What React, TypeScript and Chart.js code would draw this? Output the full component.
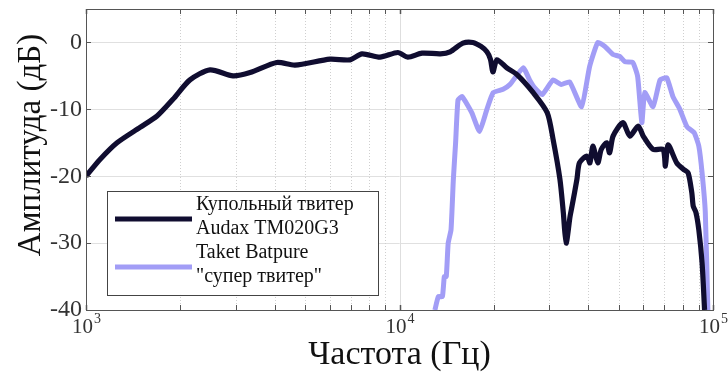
import React, { useEffect, useRef } from "react";
import { Chart, registerables } from "chart.js";

Chart.register(...registerables);

// ---- data ----
const audaxFreq = [
  1000, 1108, 1256, 1487, 1685, 1894, 2146, 2487, 2945, 3337, 4061, 4640, 6000, 6955, 7590, 8670,
  9880, 10630, 11800, 13500, 14500, 15930, 17140, 18200, 19000, 19500, 19870, 20450, 22000, 23700,
  26700, 29600, 30900, 32500, 33300, 34000, 35000, 35500, 36800, 37500, 39600, 40500, 41400, 42900,
  44000, 45800, 46800, 48000, 51600, 54300, 57700, 59900, 64400, 69300, 70500, 71900, 76600, 80600,
  83300, 85600, 86500, 88200, 90100, 92300, 94000,
];
const audaxDb = [
  -20, -17.5, -15, -12.7, -11, -8.5, -5.6, -4.1, -5.0, -4.5, -3.0, -3.4, -2.5, -2.6, -1.7, -2.2,
  -1.5, -2.2, -1.6, -1.7, -1.4, -0.1, 0, -0.6, -1.4, -2.5, -4.4, -2.6, -3.8, -4.8,
  -7.5, -10.5, -14.5, -20.5, -25.4, -30, -26, -24.5, -20.5, -18, -17, -18, -15.5, -18,
  -16, -15, -16.5, -14, -12, -14, -12.5, -14, -16, -16, -18.5, -15.3, -18, -19,
  -19.5, -22.5, -24.5, -25.4, -28, -33, -40,
];
const taketFreq = [
  12970, 13300, 13700, 13900, 14100, 14300, 14600, 14850, 15100, 15370, 15840, 17000, 18000, 19000,
  19900, 21400, 22500, 24800, 26000, 27000, 28500, 30900, 32800, 34900, 38100, 40400, 42900, 45200,
  48000, 50400, 52400, 55500, 57500, 59300, 60600, 64400, 67800, 71200, 74500, 78400, 82600, 87100,
  90100, 92300, 94500, 96300,
];
const taketDb = [
  -40, -38, -38, -35, -35, -30, -28, -20.5, -15, -8.6, -8.1, -10.5, -13.3, -10,
  -7.5, -7, -6.3, -3.8, -5.6, -6.8, -7.8, -5.6, -6.3, -5.9, -9.6, -3.6, 0, -0.6,
  -1.8, -2.1, -2.9, -3.0, -5.1, -12, -7.5, -9.6, -5.6, -5.3, -8.1, -10, -12.6, -13.5,
  -15.5, -19.5, -25.4, -40,
];
const yTickValues = [-40, -30, -20, -10, 0];
const xDecades = [1000, 10000, 100000];
const xDecadeLabels = [["10", "3"], ["10", "4"], ["10", "5"]];
const seriesNames = ["Купольный твитер Audax TM020G3", "Taket Batpure \"супер твитер\""];
const legendLines = [
  ["Купольный твитер", "Audax TM020G3"],
  ["Taket Batpure", "\"супер твитер\""],
];
const seriesColors = ["#100d30", "#a29df6"];
const xTitle = "Частота (Гц)";
const yTitle = "Амплитуда (дБ)";

const SERIF = "'Liberation Serif', 'DejaVu Serif', serif";

const framePlugin = {
  id: "frame",
  beforeDatasetsDraw(chart: any) {
    const { ctx, chartArea, scales } = chart;
    const { top, bottom } = chartArea;
    const x = scales.x;
    ctx.save();
    ctx.lineWidth = 1;
    for (let d = 0; d < xDecades.length - 1; d++) {
      for (let m = 1; m <= 9; m++) {
        const v = xDecades[d] * m;
        const px = Math.round(x.getPixelForValue(v)) + 0.5;
        ctx.beginPath();
        if (m === 1) {
          ctx.setLineDash([]);
          ctx.strokeStyle = "#dedede";
        } else {
          ctx.setLineDash([1, 2]);
          ctx.strokeStyle = "#cfcfcf";
        }
        ctx.moveTo(px, top);
        ctx.lineTo(px, bottom);
        ctx.stroke();
      }
    }
    ctx.restore();
  },
  afterDatasetsDraw(chart: any) {
    const { ctx, chartArea, scales } = chart;
    const { left, right, top, bottom } = chartArea;
    const x = scales.x;
    const y = scales.y;
    ctx.save();
    ctx.setLineDash([]);
    ctx.strokeStyle = "#555";
    ctx.lineWidth = 1;
    ctx.strokeRect(Math.round(left) + 0.5, Math.round(top) + 0.5, Math.round(right - left), Math.round(bottom - top));
    const tl = 5;
    for (let d = 0; d < xDecades.length; d++) {
      for (let m = 1; m <= 9; m++) {
        if (d === xDecades.length - 1 && m > 1) break;
        const v = xDecades[d] * m;
        const px = Math.round(x.getPixelForValue(v)) + 0.5;
        ctx.lineWidth = m === 1 ? 1.5 : 1;
        ctx.beginPath();
        ctx.moveTo(px, bottom);
        ctx.lineTo(px, bottom - tl);
        ctx.moveTo(px, top);
        ctx.lineTo(px, top + tl);
        ctx.stroke();
      }
    }
    ctx.lineWidth = 1;
    yTickValues.forEach((v) => {
      const py = Math.round(y.getPixelForValue(v)) + 0.5;
      ctx.beginPath();
      ctx.moveTo(left, py);
      ctx.lineTo(left + tl, py);
      ctx.moveTo(right, py);
      ctx.lineTo(right - tl, py);
      ctx.stroke();
    });

    // x tick labels with superscripts
    ctx.fillStyle = "#333";
    ctx.textBaseline = "alphabetic";
    xDecades.forEach((v, i) => {
      const px = x.getPixelForValue(v);
      const [base, exp] = xDecadeLabels[i];
      ctx.font = `21px ${SERIF}`;
      const bw = ctx.measureText(base).width;
      ctx.font = `14px ${SERIF}`;
      const ew = ctx.measureText(exp).width;
      const start = px - (bw + ew) / 2;
      ctx.font = `21px ${SERIF}`;
      ctx.textAlign = "left";
      ctx.fillText(base, start, bottom + 23);
      ctx.font = `14px ${SERIF}`;
      ctx.fillText(exp, start + bw + 1, bottom + 13);
    });

    // legend box
    const lx = left + 21;
    const ly = y.getPixelForValue(-22.2);
    const lw = 271;
    const lh = 104;
    ctx.fillStyle = "#ffffff";
    ctx.fillRect(lx, ly, lw, lh);
    ctx.strokeStyle = "#444";
    ctx.lineWidth = 1;
    ctx.strokeRect(Math.round(lx) + 0.5, Math.round(ly) + 0.5, lw, lh);
    const rowY = [ly + 28, ly + 76];
    legendLines.forEach((lines, i) => {
      ctx.strokeStyle = seriesColors[i];
      ctx.lineWidth = 5;
      ctx.beginPath();
      ctx.moveTo(lx + 8, rowY[i]);
      ctx.lineTo(lx + 85, rowY[i]);
      ctx.stroke();
      ctx.fillStyle = "#111";
      ctx.font = `20px ${SERIF}`;
      ctx.textAlign = "left";
      ctx.fillText(lines[0], lx + 89, rowY[i] - 9);
      ctx.fillText(lines[1], lx + 89, rowY[i] + 15);
    });

    // y axis title
    ctx.save();
    ctx.translate(31, 145);
    ctx.rotate(-Math.PI / 2);
    ctx.fillStyle = "#111";
    ctx.font = `33px ${SERIF}`;
    ctx.textAlign = "center";
    ctx.textBaseline = "middle";
    ctx.fillText(yTitle, 0, 0);
    ctx.restore();

    ctx.restore();
  },
};

export default function App() {
  const canvasRef = useRef<HTMLCanvasElement | null>(null);

  useEffect(() => {
    const canvas = canvasRef.current;
    if (!canvas) return;
    const chart = new Chart(canvas, {
      type: "line",
      data: {
        datasets: [
          {
            label: seriesNames[0],
            data: audaxFreq.map((f, i) => ({ x: f, y: audaxDb[i] })),
            borderColor: seriesColors[0],
            borderWidth: 5.2,
            pointRadius: 0,
            tension: 0.25,
            fill: false,
            order: 1,
          },
          {
            label: seriesNames[1],
            data: taketFreq.map((f, i) => ({ x: f, y: taketDb[i] })),
            borderColor: seriesColors[1],
            borderWidth: 5,
            pointRadius: 0,
            tension: 0.15,
            fill: false,
            order: 2,
          },
        ],
      },
      options: {
        responsive: false,
        animation: false,
        layout: { padding: { top: 9, right: 15, left: 0, bottom: 0 } },
        plugins: {
          legend: { display: false },
          tooltip: { enabled: false },
        },
        scales: {
          x: {
            type: "logarithmic",
            min: 1000,
            max: 100000,
            grid: { display: false },
            border: { display: false },
            ticks: { display: false },
            afterFit: (s: any) => {
              s.height = 68;
              s.paddingLeft = 0;
              s.paddingRight = 0;
            },
            title: {
              display: true,
              text: xTitle,
              color: "#111",
              font: { family: SERIF, size: 34 },
              padding: { top: 0, bottom: 3 },
            },
          },
          y: {
            min: -40,
            max: 5,
            afterBuildTicks: (s: any) => {
              s.ticks = yTickValues.map((v) => ({ value: v }));
            },
            afterFit: (s: any) => {
              s.width = 86;
              s.paddingTop = 0;
              s.paddingBottom = 0;
            },
            grid: { color: "#e0e0e0", drawTicks: false },
            border: { display: false },
            ticks: {
              color: "#333",
              font: { family: SERIF, size: 24 },
              padding: 4,
            },
            title: { display: false },
          },
        },
      },
      plugins: [framePlugin],
    });
    return () => chart.destroy();
  }, []);

  return (
    <div style={{ position: "fixed", left: 0, top: 0, width: 728, height: 378, background: "#fff" }}>
      <canvas ref={canvasRef} width={728} height={378} style={{ display: "block" }} />
    </div>
  );
}
